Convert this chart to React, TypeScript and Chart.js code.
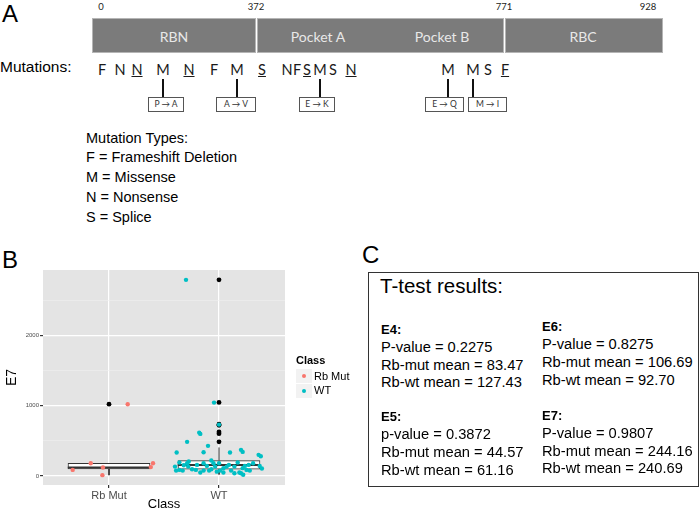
import React, { useEffect, useRef } from "react";
import { Chart, registerables } from "chart.js";

Chart.register(...registerables);

// ---------------- Data ----------------
const classes = ["Rb Mut", "WT"];
const classColors = ["#F8766D", "#00BFC4"];
const yTickLabels = [0, 1000, 2000];
const yMinorTicks = [500, 1500, 2500];

// jittered observations (x = jittered class position, y = E7)
const rbMutX = [1.17, 0.834, 0.67, 0.945, 0.94, 1.4, 1.38];
const rbMutY = [1020, 180, 85, 120, 10, 180, 125];
const wtX = [
  1.7, 1.955, 2.0, 1.82, 1.83, 1.71, 1.9, 1.615, 1.86, 2.1, 2.2, 2.215, 2.36, 2.38,
  1.6, 1.61, 1.64, 1.67, 1.71, 1.725, 1.72, 1.755, 1.79, 1.83, 1.86, 1.89, 1.91, 1.93,
  1.95, 1.965, 2.0, 2.01, 2.04, 2.07, 2.09, 2.11, 2.14, 2.17, 2.185, 2.2, 2.215, 2.235,
  2.25, 2.27, 2.31, 2.37, 2.39, 1.64, 1.68, 1.86, 1.93, 2.04, 2.14, 2.22, 1.8, 1.98, 2.28,
];
const wtY = [
  2790, 1043, 730, 616, 597, 484, 427, 332, 337, 332, 370, 341, 299, 280,
  132, 75, 85, 75, 180, 204, 133, 95, 85, 47, 75, 142, 75, 218,
  180, 132, 180, 75, 47, 132, 156, 75, 132, 190, 47, 38, 110, 142,
  85, 156, 180, 142, 104, 190, 152, 180, 95, 110, 38, 15, 156, 60, 75,
];

// box statistics per class
const boxLower = [10, 20];
const boxQ1 = [100, 95];
const boxMedian = [120, 156];
const boxQ3 = [180, 218];
const boxUpper = [180, 405];
const outliersRbMut = [1020];
const outliersWT = [2790, 1045, 735, 720, 625, 600, 485];

// T-test results
const tests = ["E4:", "E6:", "E5:", "E7:"];
const pLabels = ["P-value", "P-value", "p-value", "P-value"];
const pValues = ["0.2275", "0.8275", "0.3872", "0.9807"];
const mutMeans = ["83.47", "106.69", "44.57", "244.16"];
const wtMeans = ["127.43", "92.70", "61.16", "240.69"];

// Protein domains
const domainNames = ["RBN", "Pocket A", "Pocket B", "RBC"];
const residueTicks = ["0", "372", "771", "928"];
const mutationLetters = ["F", "N", "N", "M", "N", "F", "M", "S", "N", "F", "S", "M", "S", "N", "M", "M", "S", "F"];
const mutationUnderlined = [false, false, true, false, true, false, false, true, false, false, true, false, false, true, false, false, false, true];
const missenseChanges = ["P → A", "A → V", "E → K", "E → Q", "M → I"];
const mutationTypes = ["Mutation Types:", "F = Frameshift Deletion", "M = Missense", "N = Nonsense", "S = Splice"];

// ---------------- Layout ----------------
const SANS = "'Liberation Sans', Arial, sans-serif";
const LATO = "Lato, 'Open Sans', sans-serif";
const letterX = [102, 120, 137, 163, 189, 214, 237, 262, 287, 297, 307, 320, 333, 351, 448, 473, 488, 505];
const changeLineX = [163, 237, 320, 448, 473];
const changeBox = [[148, 184], [216, 256], [299, 335], [425, 464], [468, 507]];
const domainCenters = [174, 318, 442, 583];
const residueX = [101, 256, 504, 648];

function Txt(props: any) {
  const { x, y, size, family = SANS, weight = 400, color = "#000", align = "left", underline = false, children } = props;
  const f = family === LATO ? 0.887 : 0.8465;
  const style: any = {
    position: "absolute",
    left: x,
    top: y - f * size,
    fontSize: size,
    lineHeight: size + "px",
    fontFamily: family,
    fontWeight: weight,
    color,
    whiteSpace: "nowrap",
    textDecoration: underline ? "underline" : "none",
    transform: align === "center" ? "translateX(-50%)" : align === "right" ? "translateX(-100%)" : undefined,
  };
  return <div style={style}>{children}</div>;
}

function BoxPlot() {
  const ref = useRef<HTMLCanvasElement>(null);
  useEffect(() => {
    if (!ref.current) return;
    const font = SANS;
    const pts = (xs: number[], ys: number[]) => xs.map((x, i) => ({ x, y: ys[i] }));
    const datasets: any[] = [];
    datasets.push({
      type: "scatter", label: classes[0], data: pts(rbMutX, rbMutY), order: 0,
      pointRadius: 2.2, pointBackgroundColor: classColors[0], pointBorderWidth: 0,
    });
    datasets.push({
      type: "scatter", label: classes[1], data: pts(wtX, wtY), order: 0,
      pointRadius: 2.2, pointBackgroundColor: classColors[1], pointBorderWidth: 0,
    });
    const outs = [outliersRbMut, outliersWT];
    datasets.push({
      type: "scatter", label: "outliers",
      data: outs.flatMap((o, i) => o.map((v) => ({ x: i + 1, y: v }))), order: 1,
      pointRadius: 2.4, pointBackgroundColor: "#000", pointBorderWidth: 0,
    });
    classes.forEach((c, i) => {
      const cx = i + 1;
      datasets.push({
        type: "line", label: "median " + c, order: 2,
        data: [{ x: cx - 0.375, y: boxMedian[i] }, { x: cx + 0.375, y: boxMedian[i] }],
        borderColor: "#333", borderWidth: 2, pointRadius: 0,
      });
      datasets.push({
        type: "line", label: "upper " + c, order: 4,
        data: [{ x: cx, y: boxQ3[i] }, { x: cx, y: boxUpper[i] }],
        borderColor: "#333", borderWidth: 1, pointRadius: 0,
      });
      datasets.push({
        type: "line", label: "lower " + c, order: 4,
        data: [{ x: cx, y: boxQ1[i] }, { x: cx, y: boxLower[i] }],
        borderColor: "#333", borderWidth: 1, pointRadius: 0,
      });
    });
    datasets.push({
      type: "bar", label: "box", order: 3,
      data: classes.map((c, i) => ({ x: i + 1, y: [boxQ1[i], boxQ3[i]] })),
      backgroundColor: "#fff", borderColor: "#333", borderWidth: 1, borderSkipped: false,
      barThickness: 82, grouped: false,
    });

    const panelBg = {
      id: "panelBg",
      beforeDraw(chart: any) {
        const { ctx, chartArea: a } = chart;
        ctx.save();
        ctx.fillStyle = "#E4E4E4";
        ctx.fillRect(a.left, a.top, a.right - a.left, a.bottom - a.top);
        ctx.restore();
      },
    };

    const isMajor = (v: number) => yTickLabels.includes(v);
    const chart = new Chart(ref.current, {
      type: "scatter",
      data: { datasets },
      options: {
        animation: false,
        responsive: false,
        maintainAspectRatio: false,
        layout: { padding: { top: 10, right: 15, left: 0, bottom: 0 } },
        plugins: { legend: { display: false }, tooltip: { enabled: false } },
        scales: {
          x: {
            type: "linear", min: 0.4, max: 2.6, offset: false,
            afterBuildTicks: (s: any) => { s.ticks = classes.map((c, i) => ({ value: i + 1 })); },
            afterFit: (s: any) => { s.height = 27; },
            ticks: {
              callback: (v: any) => classes[Math.round(v) - 1],
              font: { family: font, size: 11 }, color: "#4D4D4D", padding: 1, autoSkip: false, maxRotation: 0,
            },
            grid: { color: "#fff", lineWidth: 1.2, tickColor: "#333", tickLength: 3, offset: false },
            border: { display: false },
            title: { display: true, text: "Class", font: { family: font, size: 13 }, color: "#000", padding: { top: 0, bottom: 0 } },
          },
          y: {
            type: "linear", min: -130, max: 2930,
            afterBuildTicks: (s: any) => {
              s.ticks = [...yTickLabels, ...yMinorTicks].sort((a, b) => a - b).map((v) => ({ value: v }));
            },
            afterFit: (s: any) => { s.width = 43; },
            ticks: {
              callback: (v: any) => (isMajor(v) ? String(v) : ""),
              font: { family: font, size: 6 }, color: "#4D4D4D", padding: 1, autoSkip: false,
            },
            grid: {
              color: (c: any) => (isMajor(c.tick?.value) ? "#fff" : "#F0F0F0"),
              lineWidth: (c: any) => (isMajor(c.tick?.value) ? 1.2 : 0.6),
              tickColor: (c: any) => (isMajor(c.tick?.value) ? "#333" : "rgba(0,0,0,0)"),
              tickLength: 3,
            },
            border: { display: false },
            title: { display: true, text: "E7", font: { family: font, size: 14 }, color: "#000", padding: { top: 4, bottom: 0 } },
          },
        },
      },
      plugins: [panelBg],
    } as any);
    return () => chart.destroy();
  }, []);
  return (
    <canvas ref={ref} width={300} height={252} style={{ position: "absolute", left: 0, top: 260, width: 300, height: 252 }} />
  );
}

export default function App() {
  return (
    <div style={{ position: "absolute", left: 0, top: 0, width: 700, height: 512, background: "#fff", overflow: "hidden", fontFamily: SANS }}>
      {/* Panel A */}
      <Txt x={2} y={22} size={24}>A</Txt>
      {residueTicks.map((t, i) => (
        <Txt key={t} x={residueX[i]} y={10} size={9.5} family={LATO} align="center" color="#222">{t}</Txt>
      ))}
      <div style={{ position: "absolute", left: 92, top: 18, width: 164, height: 35, background: "#7B7B7B", boxShadow: "inset 0 0 0 1px #B5B5B5" }} />
      <div style={{ position: "absolute", left: 257, top: 18, width: 247, height: 35, background: "#7B7B7B", boxShadow: "inset 0 0 0 1px #B5B5B5" }} />
      <div style={{ position: "absolute", left: 505, top: 18, width: 158, height: 35, background: "#7B7B7B", boxShadow: "inset 0 0 0 1px #B5B5B5" }} />
      {domainNames.map((d, i) => (
        <Txt key={d} x={domainCenters[i]} y={42} size={14} family={LATO} align="center" color="#E8E8E8">{d}</Txt>
      ))}
      <Txt x={0} y={72} size={15.5}>Mutations:</Txt>
      {mutationLetters.map((m, i) => (
        <Txt key={i} x={letterX[i]} y={76} size={14.5} family={LATO} align="center" color="#1A1A1A" underline={mutationUnderlined[i]}>{m}</Txt>
      ))}
      {missenseChanges.map((c, i) => (
        <React.Fragment key={c + i}>
          <div style={{ position: "absolute", left: changeLineX[i] - 1, top: 79, width: 2, height: 18, background: "#111" }} />
          <div style={{
            position: "absolute", left: changeBox[i][0], top: 97, width: changeBox[i][1] - changeBox[i][0], height: 15,
            boxSizing: "border-box", border: "1px solid #555", background: "#fff",
          }} />
          <Txt x={(changeBox[i][0] + changeBox[i][1]) / 2} y={108} size={8.5} family={LATO} align="center" color="#333">{c}</Txt>
        </React.Fragment>
      ))}
      {mutationTypes.map((t, i) => (
        <Txt key={t} x={86} y={143 + i * 19.7} size={14.5}>{t}</Txt>
      ))}

      {/* Panel B */}
      <Txt x={2} y={268} size={24}>B</Txt>
      <BoxPlot />
      <Txt x={296} y={364} size={11} weight={700}>Class</Txt>
      {classes.map((c, i) => (
        <React.Fragment key={c}>
          <div style={{ position: "absolute", left: 296, top: 369 + i * 14.5, width: 16, height: 14, background: "#F2F2F2" }} />
          <div style={{ position: "absolute", left: 302, top: 374 + i * 14.5, width: 4.4, height: 4.4, borderRadius: "50%", background: classColors[i] }} />
          <Txt x={314} y={380 + i * 14.5} size={11}>{c}</Txt>
        </React.Fragment>
      ))}

      {/* Panel C */}
      <Txt x={362} y={263} size={24}>C</Txt>
      <div style={{ position: "absolute", left: 368, top: 272, width: 331, height: 215, boxSizing: "border-box", border: "1.5px solid #333" }} />
      <Txt x={380} y={293} size={20.5}>T-test results:</Txt>
      {tests.map((t, i) => {
        const col = i % 2;
        const row = Math.floor(i / 2);
        const x = col === 0 ? 381 : 542;
        const y0 = row === 0 ? (col === 0 ? 334 : 331.5) : (col === 0 ? 421.5 : 420);
        return (
          <React.Fragment key={t}>
            <Txt x={x} y={y0} size={13} weight={700}>{t}</Txt>
            <Txt x={x} y={y0 + 18} size={14.7}>{pLabels[i] + " = " + pValues[i]}</Txt>
            <Txt x={x} y={y0 + 36} size={14.7}>{"Rb-mut mean = " + mutMeans[i]}</Txt>
            <Txt x={x} y={y0 + 53.5} size={14.7}>{"Rb-wt mean = " + wtMeans[i]}</Txt>
          </React.Fragment>
        );
      })}
    </div>
  );
}
